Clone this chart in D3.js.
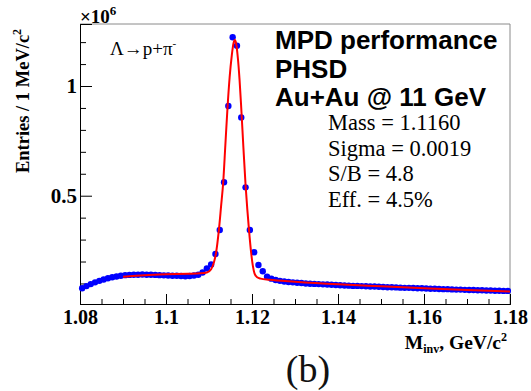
<!DOCTYPE html>
<html><head><meta charset="utf-8">
<script src="https://cdn.jsdelivr.net/npm/d3@7"></script>
<style>body{margin:0;background:#fff}svg{display:block}</style>
</head><body>
<script>
// ---- data ----
const massBins = [];
for (let i = 0; i < 100; i++) massBins.push(+(1.0805 + i * 0.001).toFixed(4));
const entries = [
0.078,0.088,0.097,0.105,0.112,0.118,0.124,0.128,0.132,0.135,
0.138,0.139,0.140,0.140,0.141,0.140,0.140,0.139,0.138,0.137,
0.136,0.135,0.135,0.134,0.133,0.134,0.136,0.140,0.150,0.169,
0.187,0.234,0.344,0.561,0.909,1.222,1.184,0.857,0.538,0.344,
0.242,0.184,0.156,0.131,0.122,0.116,0.112,0.109,0.107,0.105,
0.103,0.102,0.100,0.099,0.098,0.097,0.096,0.095,0.094,0.093,
0.092,0.091,0.090,0.089,0.089,0.088,0.087,0.086,0.086,0.085,
0.084,0.083,0.083,0.082,0.081,0.080,0.080,0.079,0.078,0.078,
0.077,0.076,0.076,0.075,0.074,0.074,0.073,0.072,0.072,0.071,
0.070,0.070,0.069,0.069,0.068,0.068,0.067,0.067,0.066,0.066];
const fitMass = [1.0900,1.0950,1.1000,1.1050,1.1080,1.1095,1.1105,1.1112,1.1116,1.1123,1.1128,1.1133,1.1138,1.1143,1.1148,1.1153,1.1157,1.1160,1.1163,1.1167,1.1171,1.1175,1.1180,1.1185,1.1189,1.1193,1.1198,1.1202,1.1206,1.1212,1.1220,1.1240,1.1300,1.1400,1.1500,1.1600,1.1700,1.1800];
const fitValue = [0.131,0.138,0.142,0.144,0.146,0.150,0.165,0.200,0.235,0.344,0.450,0.560,0.730,0.900,1.040,1.140,1.195,1.210,1.195,1.130,1.030,0.900,0.720,0.550,0.440,0.344,0.240,0.180,0.145,0.128,0.122,0.117,0.108,0.096,0.087,0.078,0.070,0.063];
const xTicks = [1.08,1.10,1.12,1.14,1.16,1.18];
const xTickLabels = ["1.08","1.1","1.12","1.14","1.16","1.18"];
const yTicks = [0.5,1];
const yTickLabels = ["0.5","1"];
const statLines = ["Mass = 1.1160","Sigma = 0.0019","S/B = 4.8","Eff. = 4.5%"];
const titleLines = ["MPD performance","PHSD","Au+Au @ 11 GeV"];

// ---- layout ----
const W = 531, H = 391;
const L = 80, R = 510, T = 24, B = 304;
const serif = "'Liberation Serif','Times New Roman',serif";
const sans = "'Liberation Sans',Arial,sans-serif";

const svg = d3.select("body").append("svg").attr("width", W).attr("height", H);
svg.append("rect").attr("width", W).attr("height", H).attr("fill", "#fff");

const x = d3.scaleLinear().domain([1.08, 1.18]).range([L, R]);
const y = d3.scaleLinear().domain([0.0064, 1.2826]).range([B, T]);

// frame top/right
svg.append("path").attr("d", `M${L},${T}H${R}V${B}`).attr("fill", "none").attr("stroke", "#8a8a8a").attr("stroke-width", 1);

// x axis
const xMinor = d3.range(1.08, 1.1801, 0.005).filter(v => Math.abs(v * 50 - Math.round(v * 50)) > 1e-6);
const gx = svg.append("g").attr("transform", `translate(0,${B})`);
gx.call(d3.axisBottom(x).tickValues(xTicks).tickSize(-10).tickFormat((d, i) => xTickLabels[i]).tickPadding(6));
gx.append("g").call(d3.axisBottom(x).tickValues(xMinor).tickSize(-5).tickFormat(""));
gx.selectAll(".domain").attr("stroke", "#000");
gx.selectAll(".tick line").attr("stroke", "#000");
gx.selectAll(".tick text").attr("font-family", serif).attr("font-weight", "bold").attr("font-size", 20).attr("fill", "#000");

// y axis
const yMinor = d3.range(0.1, 1.25, 0.1).filter(v => Math.abs(v - 0.5) > 1e-6 && Math.abs(v - 1) > 1e-6);
const gy = svg.append("g").attr("transform", `translate(${L},0)`);
gy.call(d3.axisLeft(y).tickValues(yTicks).tickSize(-12).tickFormat((d, i) => yTickLabels[i]).tickPadding(3));
gy.append("g").call(d3.axisLeft(y).tickValues(yMinor).tickSize(-6).tickFormat(""));
gy.selectAll(".domain").attr("stroke", "#000");
gy.selectAll(".tick line").attr("stroke", "#000");
gy.selectAll(".tick text").attr("font-family", serif).attr("font-weight", "bold").attr("font-size", 21).attr("fill", "#000");

// data points
svg.append("g").selectAll("circle").data(massBins).join("circle")
  .attr("cx", d => x(d)).attr("cy", (d, i) => y(entries[i])).attr("r", 3.2).attr("fill", "#0000ff");

// fit line
const line = d3.line().x(d => x(d)).y((d, i) => y(fitValue[i])).curve(d3.curveMonotoneX);
svg.append("path").datum(fitMass).attr("d", line).attr("fill", "none").attr("stroke", "#ff0000").attr("stroke-width", 2);

// x10^6
const ex = svg.append("text").attr("x", 80).attr("y", 23).attr("font-family", serif).attr("font-weight", "bold").attr("font-size", 19);
ex.append("tspan").text("×10");
ex.append("tspan").attr("dy", -8).attr("font-size", 13).text("6");

// reaction
const re = svg.append("text").attr("x", 110).attr("y", 55).attr("font-family", serif).attr("font-size", 19);
re.append("tspan").text("Λ→p+π");
re.append("tspan").attr("dy", -8).attr("font-size", 11).text("-");

// y label
const yl = svg.append("text").attr("transform", "translate(29,101) rotate(-90)").attr("text-anchor", "middle")
  .attr("font-family", serif).attr("font-weight", "bold").attr("font-size", 18.5);
yl.append("tspan").text("Entries / 1 MeV/c");
yl.append("tspan").attr("dy", -8).attr("font-size", 12).text("2");

// x label
const xl = svg.append("text").attr("x", 507).attr("y", 349).attr("text-anchor", "end")
  .attr("font-family", serif).attr("font-weight", "bold").attr("font-size", 19.5);
xl.append("tspan").text("M");
xl.append("tspan").attr("dy", 4).attr("font-size", 12).text("inv");
xl.append("tspan").attr("dy", -4).text(", GeV/c");
xl.append("tspan").attr("dy", -8).attr("font-size", 12).text("2");

// title
svg.append("g").selectAll("text").data(titleLines).join("text")
  .attr("x", 275).attr("y", (d, i) => 49 + i * 28.5)
  .attr("font-family", sans).attr("font-weight", "bold").attr("font-size", 26).attr("fill", "#000").text(d => d);

// stats
svg.append("g").selectAll("text").data(statLines).join("text")
  .attr("x", 328).attr("y", (d, i) => 130 + i * 25.5)
  .attr("font-family", serif).attr("font-size", 22.5).attr("fill", "#000").text(d => d);

// panel label
svg.append("text").attr("x", 308).attr("y", 382).attr("text-anchor", "middle")
  .attr("font-family", serif).attr("font-size", 38).attr("fill", "#111").text("(b)");
</script>
</body></html>
